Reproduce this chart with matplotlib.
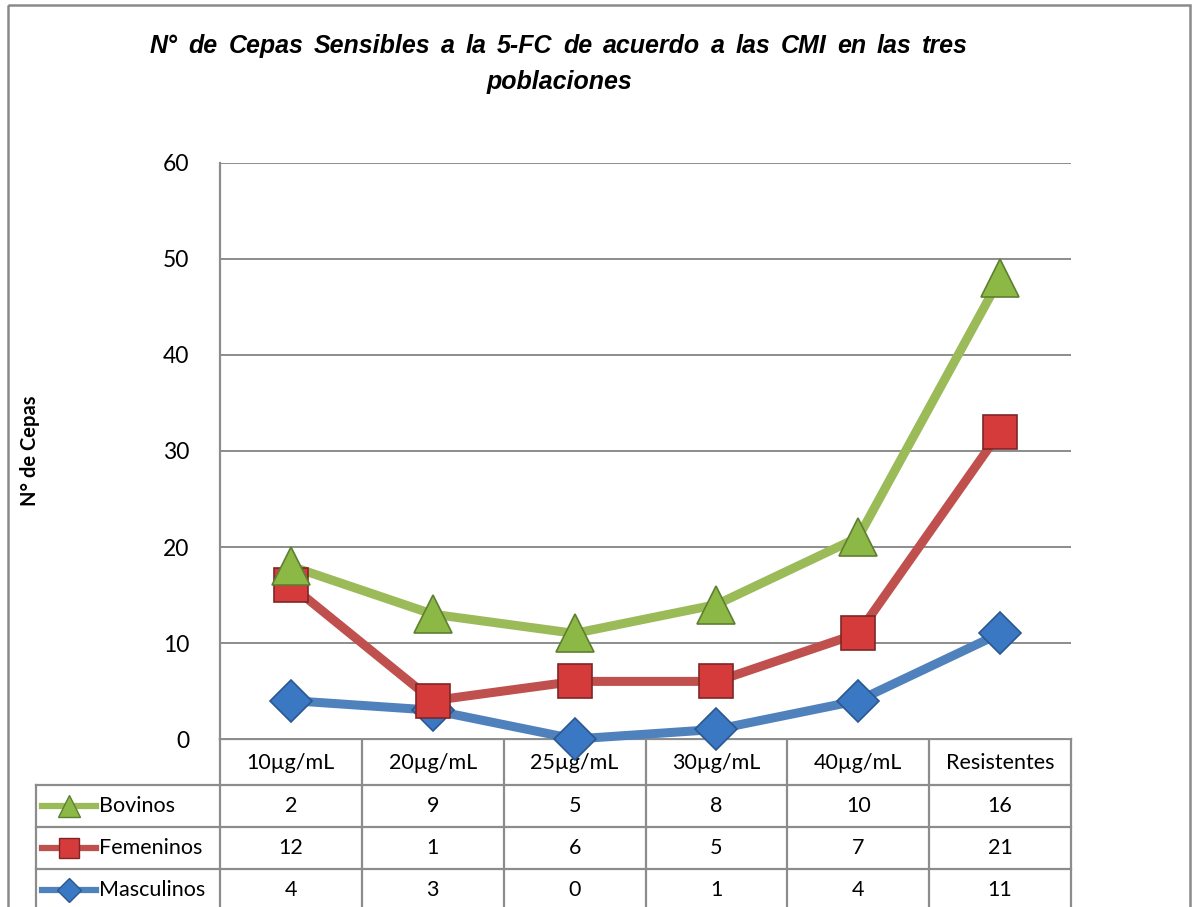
import matplotlib.pyplot as plt
from matplotlib.lines import Line2D
import numpy as np

# Datos de la tabla (N de cepas por CMI)
categorias = ["10µg/mL", "20µg/mL", "25µg/mL", "30µg/mL", "40µg/mL", "Resistentes"]
series = ["Bovinos", "Femeninos", "Masculinos"]
bovinos = [2, 9, 5, 8, 10, 16]
femeninos = [12, 1, 6, 5, 7, 21]
masculinos = [4, 3, 0, 1, 4, 11]

colores = {"Bovinos": "#9BBB59", "Femeninos": "#C0504D", "Masculinos": "#4F81BD"}
cara = {"Bovinos": "#8CB845", "Femeninos": "#D63B3B", "Masculinos": "#3A78C4"}
borde = {"Bovinos": "#5F7F30", "Femeninos": "#7E2626", "Masculinos": "#2B5890"}
marcas = {"Bovinos": "^", "Femeninos": "s", "Masculinos": "D"}
tam = {"Bovinos": 27, "Femeninos": 25, "Masculinos": 21}

W, H = 1196, 907
fig = plt.figure(figsize=(W / 100, H / 100), dpi=100)
fuente = ["Lato", "DejaVu Sans"]

x0, x1, y0, y1 = 220, 1071, 739, 163
ax = fig.add_axes([x0 / W, 1 - y0 / H, (x1 - x0) / W, (y0 - y1) / H])

# lineas apiladas (como Excel)
apilado = np.cumsum([masculinos, femeninos, bovinos], axis=0)
orden = ["Masculinos", "Femeninos", "Bovinos"]
xs = np.arange(len(categorias))
for nombre, vals in zip(orden, apilado):
    ax.plot(xs, vals, color=colores[nombre], lw=6.5, solid_capstyle="round",
            zorder=3, clip_on=False)
for nombre, vals in zip(orden, apilado):
    ax.plot(xs, vals, ls="none", marker=marcas[nombre], ms=tam[nombre],
            mfc=cara[nombre], mec=borde[nombre], mew=1.2, zorder=4, clip_on=False)

ax.set_xlim(-0.5, len(categorias) - 0.5)
ax.set_ylim(0, 60)
ax.set_yticks(range(0, 61, 10))
ax.set_xticks([])
ax.yaxis.grid(True, color="#8C8C8C", lw=1.4)
ax.set_axisbelow(True)
for s in ["top", "right", "bottom"]:
    ax.spines[s].set_visible(False)
ax.spines["left"].set_color("#8C8C8C")
ax.spines["left"].set_linewidth(1.6)
ax.tick_params(axis="y", length=0, pad=22, labelsize=16.5)
for t in ax.get_yticklabels():
    t.set_family(fuente)

# capa en pixeles para tabla, titulo y marco
ov = fig.add_axes([0, 0, 1, 1], zorder=-1)
ov.set_xlim(0, W)
ov.set_ylim(H, 0)
ov.axis("off")
ov.add_patch(plt.Rectangle((8, 5), 1182, 960, fill=False, ec="#8A8A8A", lw=1.8))

gris = "#8C8C8C"
cols = [x0 + i * (x1 - x0) / len(categorias) for i in range(len(categorias) + 1)]
filas = [739, 785, 827, 869, 911]
ov.plot([x0, x1], [filas[0], filas[0]], color=gris, lw=1.6)
for yy in filas[1:]:
    ov.plot([36, x1], [yy, yy], color=gris, lw=1.6)
for xx in cols:
    ov.plot([xx, xx], [filas[0], H + 5], color=gris, lw=1.6)
ov.plot([36, 36], [filas[1], H + 5], color=gris, lw=1.6)

for i, c in enumerate(categorias):
    ov.text((cols[i] + cols[i + 1]) / 2, 763, c, ha="center", va="center",
            fontsize=15.5, family=fuente)
for j, (nombre, vals) in enumerate(zip(series, [bovinos, femeninos, masculinos])):
    yc = (filas[j + 1] + filas[j + 2]) / 2
    ov.add_line(Line2D([42, 96], [yc, yc], color=colores[nombre], lw=4.5))
    ov.plot([69], [yc], marker=marcas[nombre], ms=tam[nombre] * 0.6,
            mfc=cara[nombre], mec=borde[nombre], mew=1)
    ov.text(99, yc, nombre, ha="left", va="center", fontsize=15.5, family=fuente)
    for i, v in enumerate(vals):
        ov.text((cols[i] + cols[i + 1]) / 2, yc, str(v), ha="center",
                va="center", fontsize=15.5, family=fuente)

ov.text(30, 451, "N° de Cepas", rotation=90, ha="center", va="center",
        fontsize=14.5, fontweight="bold", family=fuente)

# titulo justificado
palabras = "N° de Cepas Sensibles a la 5-FC de acuerdo a las CMI en las tres".split()
tstyle = dict(fontsize=18, style="italic", fontweight="bold",
              family=["Liberation Sans Narrow", "Liberation Sans", "DejaVu Sans"])
fig.canvas.draw()
r = fig.canvas.get_renderer()
textos = [ov.text(0, 46, p, ha="left", va="center", **tstyle) for p in palabras]
anchos = [t.get_window_extent(r).width for t in textos]
izq, der = 150, 968
hueco = (der - izq - sum(anchos)) / (len(palabras) - 1)
pos = izq
for t, a in zip(textos, anchos):
    t.set_x(pos)
    pos += a + hueco
ov.text(559, 82, "poblaciones", ha="center", va="center", **tstyle)

fig.savefig("out.png", dpi=100)
